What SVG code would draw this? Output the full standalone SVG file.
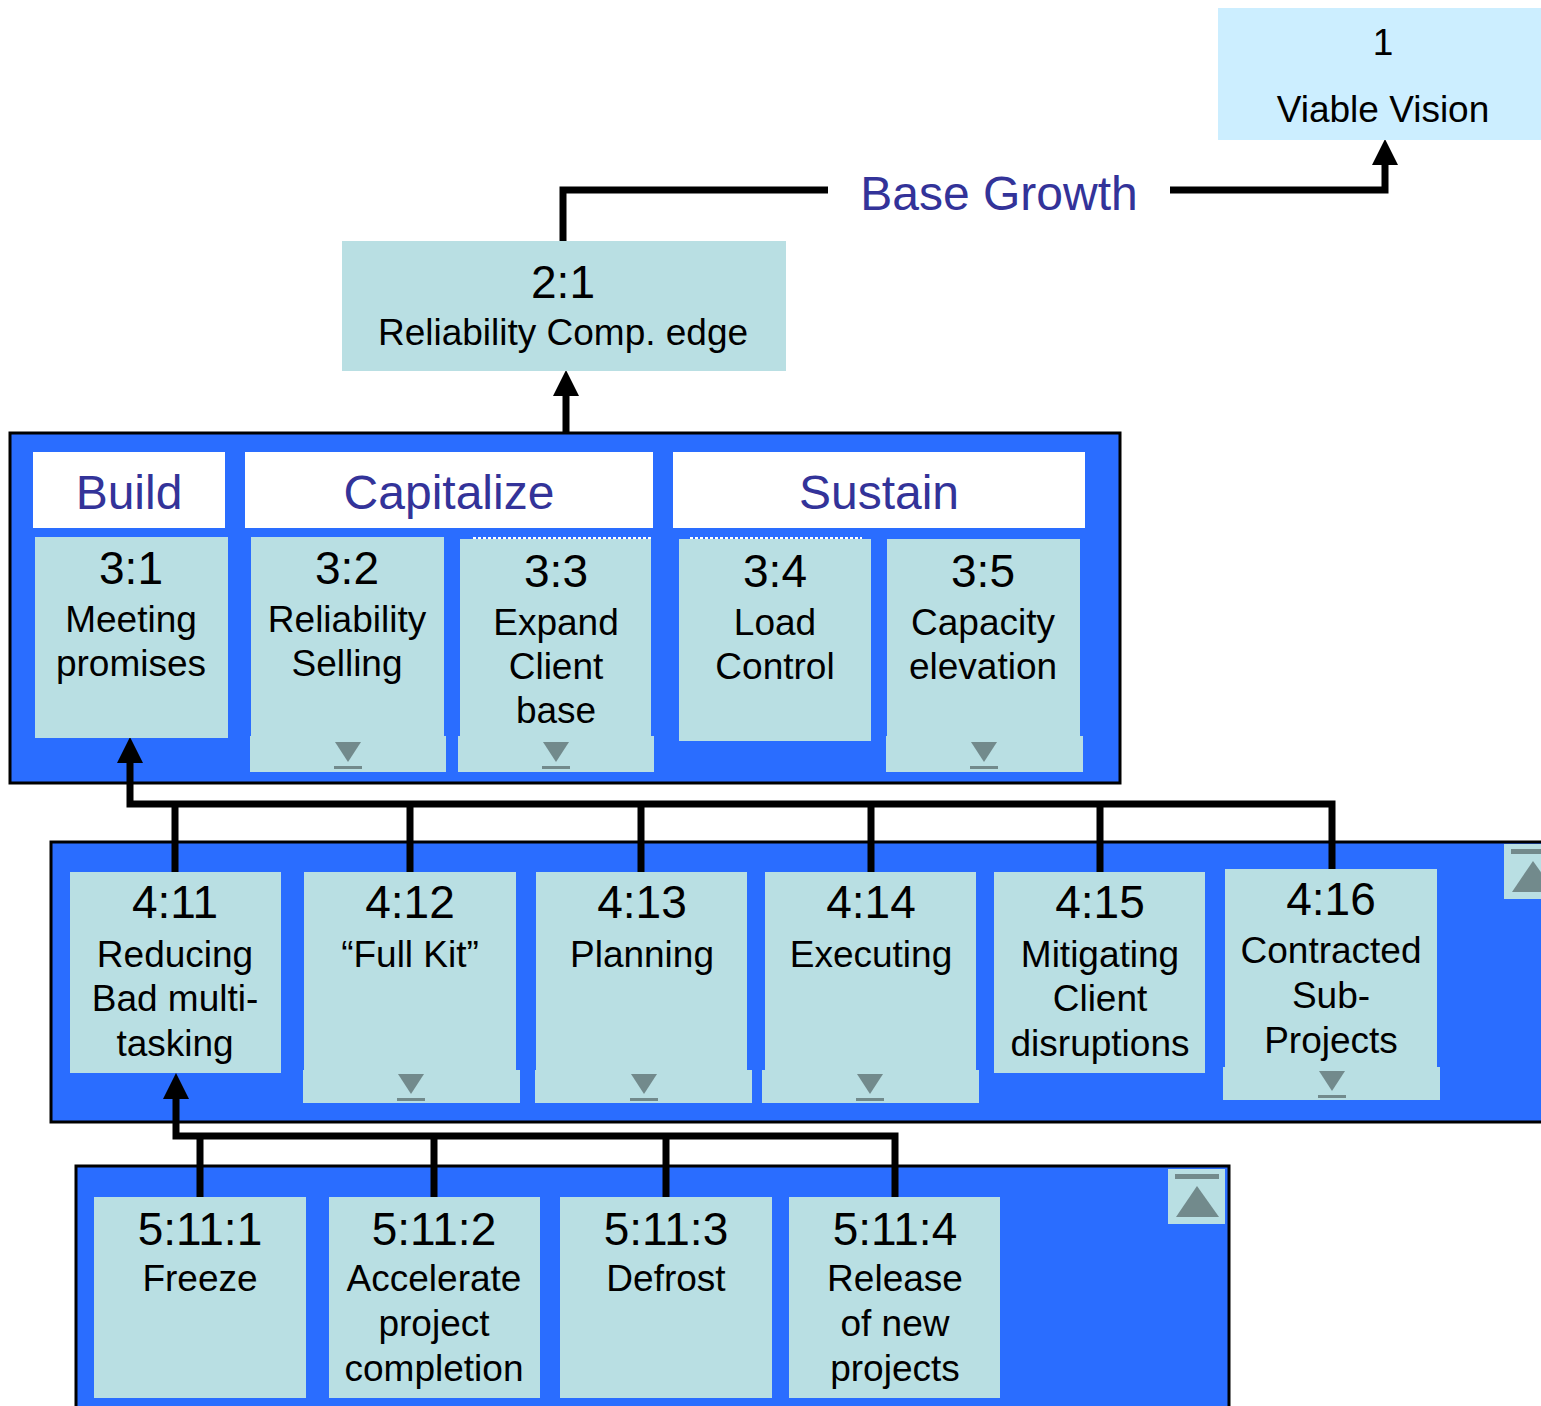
<svg xmlns="http://www.w3.org/2000/svg" xmlns:xlink="http://www.w3.org/1999/xlink" width="1541" height="1406" viewBox="0 0 1541 1406">
<style>
text{font-family:"Liberation Sans",Arial,sans-serif;text-anchor:middle;fill:#000}
.num{font-size:46px}
.body{font-size:37px}
.hdr{font-size:48px;fill:#333399}
.node{fill:#B9DFE3}
.cont{fill:#2A6DFF;stroke:#000;stroke-width:3}
.head{fill:#fff}
.conn{fill:none;stroke:#000;stroke-width:7;stroke-linejoin:miter;stroke-linecap:butt}
.dots{stroke:#fff;stroke-width:2;stroke-dasharray:3 2}
</style>
<defs>
<marker id="arr" markerUnits="userSpaceOnUse" markerWidth="26" markerHeight="26" viewBox="0 0 26 26" refX="2" refY="13" orient="auto">
<path d="M0,0 L26,13 L0,26 z" fill="#000"/>
</marker>
<g id="dd">
<polygon points="-13,0 13,0 0,20" fill="#728A8C"/>
<rect x="-14" y="24" width="28" height="3" fill="#728A8C"/>
</g>
<g id="up">
<rect x="0" y="0" width="57" height="55" fill="#B9DFE3"/>
<rect x="7" y="5" width="44" height="5" fill="#728A8C"/>
<polygon points="29,17 51,48 8,48" fill="#728A8C"/>
</g>
</defs>

<!-- containers -->
<g id="level3">
<rect class="cont" x="10" y="433" width="1110" height="350"/>
<rect class="head" x="33" y="452" width="192" height="76"/>
<text class="hdr" x="129" y="509">Build</text>
<rect class="head" x="245" y="452" width="408" height="76"/>
<text class="hdr" x="449" y="509">Capitalize</text>
<rect class="head" x="673" y="452" width="412" height="76"/>
<text class="hdr" x="879" y="509">Sustain</text>
</g>
<g id="level4">
<rect class="cont" x="51" y="842" width="1500" height="280"/>
<use xlink:href="#up" x="1504" y="844"/>
</g>
<g id="level5">
<rect class="cont" x="76" y="1166" width="1153" height="250"/>
<use xlink:href="#up" x="1168" y="1169"/>
</g>

<!-- connectors -->
<g id="connectors">
<path class="conn" d="M563,241 V190 H828"/>
<path class="conn" d="M1170,190 H1385 V163" marker-end="url(#arr)"/>
<path class="conn" d="M566,433 V394" marker-end="url(#arr)"/>
<path class="conn" d="M1332,869 V804 H130 V761" marker-end="url(#arr)"/>
<path class="conn" d="M175,804 V872 M410,804 V872 M641,804 V872 M871,804 V872 M1100,804 V872"/>
<path class="conn" d="M895,1197 V1136 H176 V1097" marker-end="url(#arr)"/>
<path class="conn" d="M200,1136 V1197 M434,1136 V1197 M666,1136 V1197"/>
<text class="hdr" x="999" y="210">Base Growth</text>
</g>

<!-- nodes -->
<g id="n1">
<rect x="1218" y="8" width="330" height="132" fill="#CCEEFF"/>
<text x="1383" y="55" font-size="37">1</text>
<text x="1383" y="122" font-size="37">Viable Vision</text>
</g>
<g id="n2_1">
<rect class="node" x="342" y="241" width="444" height="130"/>
<text class="num" x="563" y="298">2:1</text>
<text class="body" x="563" y="345">Reliability Comp. edge</text>
</g>

<g id="n3_1">
<rect class="node" x="35" y="537" width="193" height="201"/>
<text class="num" x="131" y="584">3:1</text>
<text class="body" x="131" y="632">Meeting</text>
<text class="body" x="131" y="676">promises</text>
</g>
<g id="n3_2">
<rect class="node" x="251" y="537" width="193" height="200"/>
<rect class="node" x="250" y="736" width="196" height="36"/>
<use xlink:href="#dd" x="348" y="742"/>
<text class="num" x="347" y="584">3:2</text>
<text class="body" x="347" y="632">Reliability</text>
<text class="body" x="347" y="676">Selling</text>
</g>
<g id="n3_3">
<rect class="node" x="460" y="539" width="191" height="198"/>
<rect class="node" x="458" y="736" width="196" height="36"/>
<line class="dots" x1="473" y1="538" x2="651" y2="538"/>
<use xlink:href="#dd" x="556" y="742"/>
<text class="num" x="556" y="587">3:3</text>
<text class="body" x="556" y="635">Expand</text>
<text class="body" x="556" y="679">Client</text>
<text class="body" x="556" y="723">base</text>
</g>
<g id="n3_4">
<rect class="node" x="679" y="539" width="192" height="202"/>
<line class="dots" x1="690" y1="538" x2="862" y2="538"/>
<text class="num" x="775" y="587">3:4</text>
<text class="body" x="775" y="635">Load</text>
<text class="body" x="775" y="679">Control</text>
</g>
<g id="n3_5">
<rect class="node" x="887" y="539" width="193" height="198"/>
<rect class="node" x="886" y="736" width="197" height="36"/>
<use xlink:href="#dd" x="984" y="742"/>
<text class="num" x="983" y="587">3:5</text>
<text class="body" x="983" y="635">Capacity</text>
<text class="body" x="983" y="679">elevation</text>
</g>

<g id="n4_11">
<rect class="node" x="70" y="872" width="211" height="201"/>
<text class="num" x="175" y="918">4:11</text>
<text class="body" x="175" y="967">Reducing</text>
<text class="body" x="175" y="1011">Bad multi-</text>
<text class="body" x="175" y="1056">tasking</text>
</g>
<g id="n4_12">
<rect class="node" x="304" y="872" width="212" height="199"/>
<rect class="node" x="303" y="1070" width="217" height="33"/>
<use xlink:href="#dd" x="411" y="1074"/>
<text class="num" x="410" y="918">4:12</text>
<text class="body" x="410" y="967">“Full Kit”</text>
</g>
<g id="n4_13">
<rect class="node" x="536" y="872" width="211" height="199"/>
<rect class="node" x="535" y="1070" width="217" height="33"/>
<use xlink:href="#dd" x="644" y="1074"/>
<text class="num" x="642" y="918">4:13</text>
<text class="body" x="642" y="967">Planning</text>
</g>
<g id="n4_14">
<rect class="node" x="765" y="872" width="211" height="199"/>
<rect class="node" x="762" y="1070" width="217" height="33"/>
<use xlink:href="#dd" x="870" y="1074"/>
<text class="num" x="871" y="918">4:14</text>
<text class="body" x="871" y="967">Executing</text>
</g>
<g id="n4_15">
<rect class="node" x="994" y="872" width="211" height="201"/>
<text class="num" x="1100" y="918">4:15</text>
<text class="body" x="1100" y="967">Mitigating</text>
<text class="body" x="1100" y="1011">Client</text>
<text class="body" x="1100" y="1056">disruptions</text>
</g>
<g id="n4_16">
<rect class="node" x="1225" y="869" width="212" height="199"/>
<rect class="node" x="1223" y="1067" width="217" height="33"/>
<use xlink:href="#dd" x="1332" y="1071"/>
<text class="num" x="1331" y="915">4:16</text>
<text class="body" x="1331" y="963">Contracted</text>
<text class="body" x="1331" y="1008">Sub-</text>
<text class="body" x="1331" y="1053">Projects</text>
</g>

<g id="n5_11_1">
<rect class="node" x="94" y="1197" width="212" height="201"/>
<text class="num" x="200" y="1245">5:11:1</text>
<text class="body" x="200" y="1291">Freeze</text>
</g>
<g id="n5_11_2">
<rect class="node" x="329" y="1197" width="211" height="201"/>
<text class="num" x="434" y="1245">5:11:2</text>
<text class="body" x="434" y="1291">Accelerate</text>
<text class="body" x="434" y="1336">project</text>
<text class="body" x="434" y="1381">completion</text>
</g>
<g id="n5_11_3">
<rect class="node" x="560" y="1197" width="212" height="201"/>
<text class="num" x="666" y="1245">5:11:3</text>
<text class="body" x="666" y="1291">Defrost</text>
</g>
<g id="n5_11_4">
<rect class="node" x="789" y="1197" width="211" height="201"/>
<text class="num" x="895" y="1245">5:11:4</text>
<text class="body" x="895" y="1291">Release</text>
<text class="body" x="895" y="1336">of new</text>
<text class="body" x="895" y="1381">projects</text>
</g>
</svg>
